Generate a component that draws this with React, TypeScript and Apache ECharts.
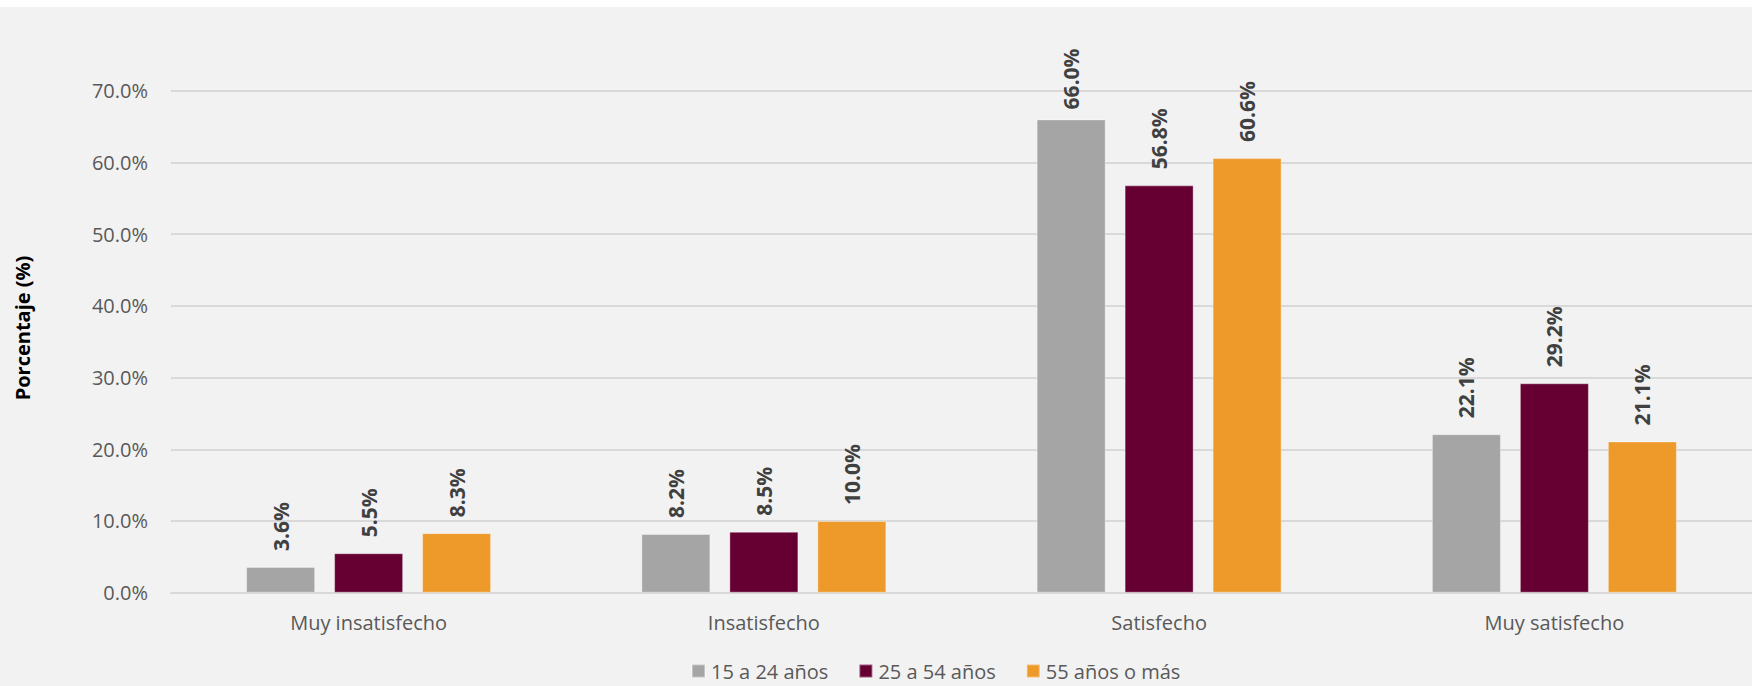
import React, { useEffect, useRef } from "react";
import * as echarts from "echarts";

const categories = ["Muy insatisfecho", "Insatisfecho", "Satisfecho", "Muy satisfecho"];
const seriesNames = ["15 a 24 años", "25 a 54 años", "55 años o más"];
const youngValues = [3.6, 8.2, 66.0, 22.1];
const adultValues = [5.5, 8.5, 56.8, 29.2];
const olderValues = [8.3, 10.0, 60.6, 21.1];
const seriesColors = ["#a5a5a5", "#660033", "#ee9a2a"];
const yTicks = { min: 0, max: 70, interval: 10 };
const yAxisTitle = "Porcentaje (%)";

const FONT = "'Open Sans', 'Noto Sans', sans-serif";

export default function App() {
  const ref = useRef<HTMLDivElement>(null);

  useEffect(() => {
    document.body.style.margin = "0";
    if (!ref.current) return;
    const chart = echarts.init(ref.current, null, { renderer: "svg" });
    const allValues = [youngValues, adultValues, olderValues];
    const option: any = {
      animation: false,
      backgroundColor: "transparent",
      textStyle: { fontFamily: FONT },
      grid: { left: 171, top: 90.7, width: 1585, height: 502, containLabel: false },
      legend: {
        left: 691,
        top: 661,
        padding: 0,
        itemWidth: 13,
        itemHeight: 13,
        itemGap: 30,
        icon: "rect",
        textStyle: { fontSize: 20, lineHeight: 20, color: "#595959", fontFamily: FONT, padding: [0, 0, 0, 1] },
        data: seriesNames,
      },
      graphic: [
        {
          type: "text",
          x: 22,
          y: 328,
          rotation: Math.PI / 2,
          style: {
            text: yAxisTitle,
            fontSize: 20,
            fontWeight: "bold",
            fill: "#000000",
            fontFamily: FONT,
            align: "center",
            verticalAlign: "middle",
          },
        },
      ],
      xAxis: {
        type: "category",
        data: categories,
        axisLine: { show: true, lineStyle: { color: "#d9d9d9", width: 2 } },
        axisTick: { show: false },
        axisLabel: { fontSize: 20, color: "#595959", margin: 20, fontFamily: FONT },
      },
      yAxis: {
        type: "value",
        min: yTicks.min,
        max: yTicks.max,
        interval: yTicks.interval,
        axisLine: { show: false },
        axisTick: { show: false },
        splitLine: { lineStyle: { color: "#d9d9d9", width: 2 } },
        axisLabel: {
          fontSize: 20,
          color: "#595959",
          margin: 23,
          fontFamily: FONT,
          formatter: (v: number) => v.toFixed(1) + "%",
        },
      },
      series: seriesNames.map((name, i) => ({
        name,
        type: "bar",
        data: allValues[i].map((v) =>
          v > 64 ? { value: v, label: { distance: 10 } } : v
        ),
        barWidth: 69,
        barGap: "27.5%",
        itemStyle: {
          color: seriesColors[i],
          borderColor: "rgba(255,255,255,0.35)",
          borderWidth: 1,
        },
        label: {
          show: true,
          position: "top",
          rotate: 90,
          align: "left",
          verticalAlign: "middle",
          distance: 16,
          fontSize: 21,
          fontWeight: "bold",
          color: "#404040",
          fontFamily: FONT,
          formatter: (p: any) => Number(p.value).toFixed(1) + "%",
        },
      })),
    };
    chart.setOption(option);
    return () => chart.dispose();
  }, []);

  return (
    <div
      style={{
        width: 1752,
        height: 686,
        background: "linear-gradient(#ffffff 0px, #ffffff 7px, #f2f2f2 7px, #f2f2f2 100%)",
      }}
    >
      <div ref={ref} style={{ width: 1752, height: 686 }} />
    </div>
  );
}
